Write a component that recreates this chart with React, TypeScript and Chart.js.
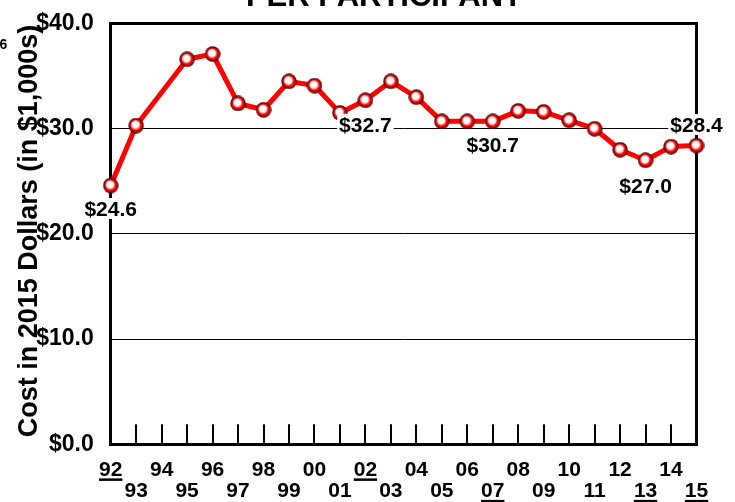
import React, { useEffect, useRef } from 'react';
import { Chart, registerables } from 'chart.js';

Chart.register(...registerables);

const FONT = '"Liberation Sans", Arial, Helvetica, sans-serif';

const years = ['92', '93', '94', '95', '96', '97', '98', '99', '00', '01', '02', '03', '04', '05', '06', '07', '08', '09', '10', '11', '12', '13', '14', '15'];
const costs = [24.6, 30.3, null, 36.6, 37.1, 32.4, 31.8, 34.5, 34.1, 31.5, 32.7, 34.5, 33.0, 30.7, 30.7, 30.7, 31.7, 31.6, 30.8, 30.0, 28.0, 27.0, 28.3, 28.4];
const labeledYears = ['92', '02', '07', '13', '15'];
const underlinedYears = ['92', '02', '07', '13', '15'];
const yMin = 0;
const yMax = 40;
const yStep = 10;

const titleText = 'PER PARTICIPANT';
const yTitleText = 'Cost in 2015 Dollars (in $1,000s)';
const footnoteMark = '6';

function makeSphere(): HTMLCanvasElement {
  const c = document.createElement('canvas');
  c.width = 16;
  c.height = 16;
  const g = c.getContext('2d')!;
  g.beginPath();
  g.arc(8, 8, 7.7, 0, Math.PI * 2);
  g.fillStyle = '#3a0000';
  g.fill();
  const grad = g.createRadialGradient(6.6, 6.2, 0.4, 8, 8, 7);
  grad.addColorStop(0, '#ffffff');
  grad.addColorStop(0.44, '#ffffff');
  grad.addColorStop(0.6, '#ff7070');
  grad.addColorStop(0.72, '#ff0000');
  grad.addColorStop(1, '#b00000');
  g.beginPath();
  g.arc(8, 8, 6.8, 0, Math.PI * 2);
  g.fillStyle = grad;
  g.fill();
  return c;
}

// vertical placement of value labels relative to their point (label centre offset)
const labelPlacement: Record<string, number> = { '92': 23, '02': 24, '07': 23.5, '13': 25.5, '15': -21 };

const zeroPadding = (s: any) => {
  s.paddingLeft = 0;
  s.paddingRight = 0;
  s.paddingTop = 0;
  s.paddingBottom = 0;
};

const decorPlugin = {
  id: 'decor',
  beforeDatasetsDraw(chart: any) {
    const { ctx, chartArea: a } = chart;
    ctx.save();
    ctx.strokeStyle = '#000';
    ctx.lineWidth = 3;
    ctx.beginPath();
    ctx.moveTo(a.left - 1.5, a.top);
    ctx.lineTo(a.right, a.top);
    ctx.lineTo(a.right, a.bottom + 1.5);
    ctx.stroke();
    ctx.restore();
  },
  afterDatasetsDraw(chart: any) {
    const { ctx } = chart;
    const meta = chart.getDatasetMeta(0);
    ctx.save();
    ctx.font = `bold 21px ${FONT}`;
    ctx.textAlign = 'center';
    ctx.textBaseline = 'alphabetic';
    labeledYears.forEach((yr) => {
      const i = years.indexOf(yr);
      const v = costs[i];
      const pt = meta.data[i];
      if (v == null || !pt) return;
      const text = '$' + v.toFixed(1);
      const w = ctx.measureText(text).width;
      const cx = pt.x;
      const cy = pt.y + (labelPlacement[yr] || 20);
      ctx.fillStyle = '#fff';
      ctx.fillRect(cx - w / 2 - 2, cy - 10.5, w + 4, 21);
      ctx.fillStyle = '#000';
      ctx.fillText(text, cx, cy + 7.5);
    });
    ctx.restore();
  },
  afterDraw(chart: any) {
    const { ctx, chartArea: a } = chart;
    const xs = chart.scales.x;
    ctx.save();
    // underlines below selected year labels
    ctx.font = `bold 21px ${FONT}`;
    ctx.fillStyle = '#000';
    underlinedYears.forEach((yr) => {
      const i = years.indexOf(yr);
      const x = xs.getPixelForValue(i);
      const row = i % 2;
      const cy = a.bottom + 25.7 + row * 21.5;
      const w = ctx.measureText(yr).width;
      ctx.fillRect(x - w / 2, cy + 8.4, w, 2.5);
    });
    // chart title (partly cut off at top)
    ctx.font = `bold 31px ${FONT}`;
    ctx.textAlign = 'center';
    ctx.textBaseline = 'alphabetic';
    ctx.fillText(titleText, 384, 6);
    // footnote mark
    ctx.font = `bold 14px ${FONT}`;
    ctx.textAlign = 'left';
    ctx.fillText(footnoteMark, -0.5, 49);
    // rotated y-axis title
    ctx.translate(37, 231);
    ctx.rotate(-Math.PI / 2);
    ctx.font = `bold 27px ${FONT}`;
    ctx.textAlign = 'center';
    ctx.fillText(yTitleText, 0, 0);
    ctx.restore();
  },
};

export default function App() {
  const ref = useRef<HTMLCanvasElement | null>(null);
  useEffect(() => {
    if (!ref.current) return;
    const sphere = makeSphere();
    const chart = new Chart(ref.current, {
      type: 'line',
      data: {
        labels: years,
        datasets: [
          {
            data: costs,
            borderColor: '#ff0000',
            borderWidth: 5,
            borderJoinStyle: 'round',
            borderCapStyle: 'round',
            pointStyle: sphere as any,
            pointRadius: 8,
            spanGaps: true,
            tension: 0,
            fill: false,
            clip: false as any,
          },
        ],
      },
      options: {
        animation: false,
        responsive: false,
        layout: { padding: { top: 23.5, right: 38.5, left: 0, bottom: 0 } },
        plugins: { legend: { display: false }, tooltip: { enabled: false }, title: { display: false } },
        scales: {
          x: {
            type: 'category',
            offset: false,
            afterFit: (s: any) => {
              s.height = 57.7;
              zeroPadding(s);
            },
            grid: { drawOnChartArea: false, drawTicks: true, tickLength: -20, color: '#000', lineWidth: 2 },
            border: { display: true, color: '#000', width: 3 },
            ticks: {
              autoSkip: false,
              maxRotation: 0,
              minRotation: 0,
              padding: 35,
              color: '#000',
              font: { family: FONT, size: 21, weight: 'bold', lineHeight: 1.024 },
              callback: (_v: any, idx: number) => (idx % 2 === 0 ? [years[idx], ''] : ['', years[idx]]),
            },
          },
          y: {
            min: yMin,
            max: yMax,
            afterFit: (s: any) => {
              s.width = 110.7;
              zeroPadding(s);
            },
            grid: { color: '#000', lineWidth: 1, drawTicks: false },
            border: { display: true, color: '#000', width: 3 },
            ticks: {
              stepSize: yStep,
              padding: 17,
              color: '#000',
              font: { family: FONT, size: 23, weight: 'bold' },
              callback: (v: any) => '$' + Number(v).toFixed(1),
            },
          },
        },
      },
      plugins: [decorPlugin],
    });
    return () => chart.destroy();
  }, []);
  return (
    <div style={{ position: 'absolute', left: 0, top: 0, width: 735, height: 502, background: '#fff', overflow: 'hidden' }}>
      <canvas ref={ref} width={735} height={502} style={{ display: 'block' }} />
    </div>
  );
}
